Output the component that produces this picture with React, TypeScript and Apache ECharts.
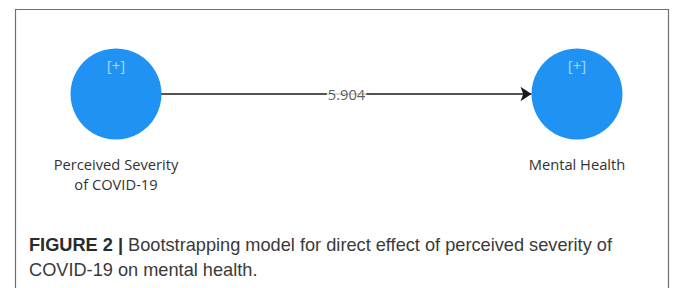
import React, { useEffect, useRef } from "react";
import * as echarts from "echarts";

const nodeNames = ["Perceived Severity\nof COVID-19", "Mental Health"];
const nodeX = [0, 1];
const nodeY = [0, 0];
const nodeTags = ["[+]", "[+]"];
const pathCoefficients = [5.904];
const captionBold = "FIGURE 2 |";
const captionLine1 = " Bootstrapping model for direct effect of perceived severity of";
const captionLine2 = "COVID-19 on mental health.";

const uiFont = "Open Sans, Noto Sans, sans-serif";
const capFont = "Liberation Sans, Arial, sans-serif";

export default function App() {
  const ref = useRef<HTMLDivElement>(null);
  useEffect(() => {
    if (!ref.current) return;
    const chart = echarts.init(ref.current, undefined, { renderer: "svg" });
    const nodes = nodeNames.map((n, i) => ({
      name: n,
      value: [nodeX[i], nodeY[i]],
    }));
    const mid = [
      (nodeX[0] + nodeX[1]) / 2,
      (nodeY[0] + nodeY[1]) / 2,
    ];
    chart.setOption({
      animation: false,
      backgroundColor: "#ffffff",
      grid: { left: 116, right: 96, top: 44, bottom: 144 },
      xAxis: { type: "value", min: 0, max: 1, show: false },
      yAxis: { type: "value", min: -1, max: 1, show: false },
      graphic: [
        {
          type: "rect",
          shape: { x: 15.5, y: 9.5, width: 653, height: 300 },
          style: { fill: "none", stroke: "#6f6f6f", lineWidth: 1.2 },
          silent: true,
        },
        {
          type: "text",
          left: 29,
          top: 236,
          style: {
            text: `{b|${captionBold}}{n|${captionLine1}}\n{n|${captionLine2}}`,
            rich: {
              b: { fontFamily: capFont, fontWeight: "bold", fontSize: 18.2, fill: "#2b2b2b", lineHeight: 25 },
              n: { fontFamily: capFont, fontSize: 18.2, fill: "#3a3a3a", lineHeight: 25 },
            },
          },
          silent: true,
        },
      ],
      series: [
        {
          type: "graph",
          coordinateSystem: "cartesian2d",
          layout: "none",
          symbol: "circle",
          symbolSize: 91,
          itemStyle: { color: "#1f92f4" },
          label: {
            show: true,
            position: "bottom",
            distance: 14,
            color: "#333333",
            fontFamily: uiFont,
            fontSize: 14.7,
            lineHeight: 20,
            formatter: (p: any) => p.name,
          },
          edgeSymbol: ["none", "arrow"],
          edgeSymbolSize: [0, 11],
          lineStyle: { color: "#1a1a1a", width: 1.6, opacity: 1, curveness: 0 },
          data: nodes,
          links: [{ source: nodeNames[0], target: nodeNames[1], value: pathCoefficients[0] }],
          z: 2,
        },
        {
          type: "scatter",
          data: nodes.map((n, i) => ({ name: nodeTags[i], value: n.value })),
          symbolSize: 1,
          itemStyle: { color: "transparent" },
          label: {
            show: true,
            position: "inside",
            offset: [0, -29],
            formatter: (p: any) => p.name,
            color: "#cfe6ff",
            fontFamily: uiFont,
            fontSize: 15,
          },
          z: 5,
          silent: true,
        },
        {
          type: "scatter",
          data: [{ name: pathCoefficients[0].toFixed(3), value: mid }],
          symbolSize: 1,
          itemStyle: { color: "transparent" },
          label: {
            show: true,
            position: "inside",
            formatter: (p: any) => p.name,
            color: "#333333",
            fontFamily: uiFont,
            fontSize: 14.7,
            backgroundColor: "#ffffff",
            padding: [1, 1],
          },
          z: 6,
          silent: true,
        },
      ],
    });
    return () => chart.dispose();
  }, []);
  return (
    <div
      ref={ref}
      style={{ position: "fixed", left: 0, top: 0, width: 673, height: 288, background: "#fff" }}
    />
  );
}
